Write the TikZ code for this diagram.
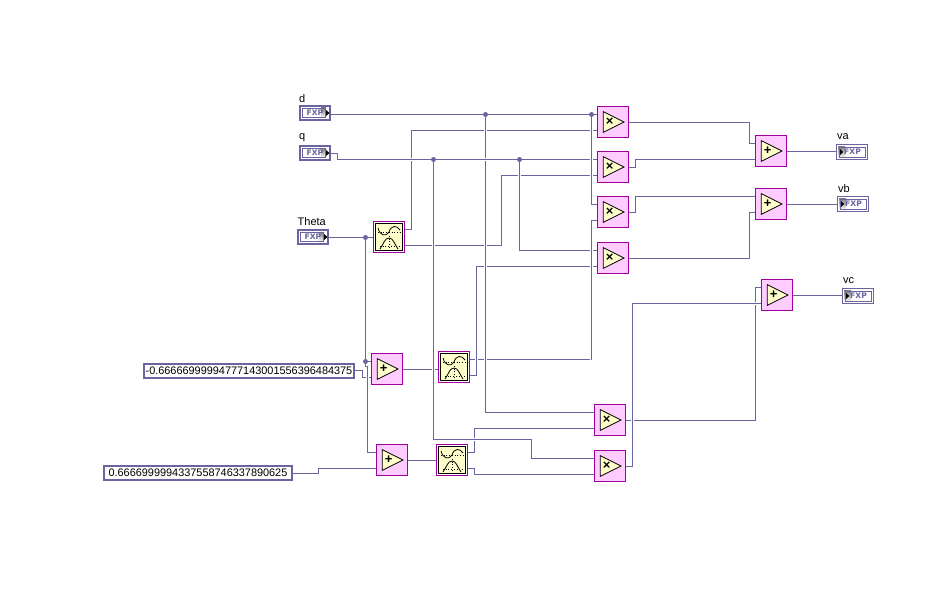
\documentclass[tikz,border=0pt]{standalone}
\usepackage{fontspec}
\usetikzlibrary{backgrounds}
\setmainfont{Liberation Sans}
\newfontfamily\fxpfont{DejaVu Sans}
\definecolor{wirec}{HTML}{6A659E}
\definecolor{fnedge}{HTML}{A000A0}
\definecolor{fnfill}{HTML}{FFCCFF}
\definecolor{glyphy}{HTML}{FFFFCC}
\definecolor{shade}{HTML}{C8C8E0}
\tikzset{
  wire/.style={draw=wirec,line width=1pt,preaction={draw=white,line width=3pt}},
  dotj/.style={circle,fill=wirec,inner sep=0pt,minimum size=5pt},
  fnbox/.style={draw=fnedge,fill=fnfill,line width=1pt,minimum size=31pt,inner sep=0pt},
  sinbox/.style={draw=fnedge,fill=white,line width=1pt,minimum size=31pt,inner sep=0pt},
  ctlbox/.style={draw=wirec,fill=white,line width=2pt,minimum width=30pt,minimum height=14pt,inner sep=0pt},
  indbox/.style={draw=wirec,fill=white,line width=1pt,minimum width=31pt,minimum height=15pt,inner sep=0pt},
  constbox/.style={draw=wirec,fill=white,line width=2pt,minimum height=14pt,inner sep=0pt,font=\fontsize{10.9}{12}\selectfont},
  lbl/.style={anchor=west,inner sep=0pt,font=\fontsize{11}{12}\selectfont},
  fxp/.style={inner sep=0pt,text=wirec,font=\fxpfont\bfseries\fontsize{7.6}{8}\selectfont},
  opsym/.style={inner sep=0pt,font=\bfseries\fontsize{13}{13}\selectfont}
}
% function node with two input ports and an output port
\newcommand\fnode[4]{%
  \node[fnbox] (#1) at (#2,#3) {};
  \coordinate (#1a) at (#2-16,#3-7.5);
  \coordinate (#1b) at (#2-16,#3+8.5);
  \coordinate (#1o) at (#2+16,#3+.5);
  \draw[fill=glyphy,draw=black,line width=.8pt] (#2-9.7,#3-10.3) -- (#2+11,#3) -- (#2-9.7,#3+10.3) -- cycle;
  \node[opsym] at (#2-3.3,#3) {#4};
}
\newcommand\snode[3]{%
  \node[sinbox] (#1) at (#2,#3) {};
  \coordinate (#1u) at (#2+16,#3-7.5);
  \coordinate (#1l) at (#2+16,#3+8.5);
  \coordinate (#1i) at (#2-16,#3+.5);
  \draw[fill=glyphy,draw=black,line width=1pt] (#2-13.5,#3-13.5) rectangle (#2+13.5,#3+13.5);
  \draw[black,line width=.7pt,dotted] (#2-11,#3-5) -- (#2+11,#3-5);
  \draw[black,line width=.7pt,dotted] (#2-9,#3+9) -- (#2+10,#3+9);
  \draw[black,line width=.7pt,dotted] (#2,#3-1) -- (#2,#3+12);
  \draw[black,line width=.8pt] (#2-11,#3-9) .. controls (#2-9,#3-1) and (#2-3,#3-0) .. (#2,#3-5) .. controls (#2+2,#3-12) and (#2+8,#3-12) .. (#2+11,#3-7);
  \draw[black,line width=.8pt] (#2-9,#3+12) .. controls (#2-5,#3+6) and (#2-4,#3+1) .. (#2,#3+1) .. controls (#2+4,#3+1) and (#2+5,#3+6) .. (#2+9,#3+12);
}
\newcommand\ctl[3]{%
  \node[ctlbox] (#1) at (#2,#3) {};
  \coordinate (#1o) at (#2+16,#3+.5);
  \fill[shade] (#2+6,#3-5) rectangle (#2+11,#3+5);
  \draw[wirec,line width=.8pt] (#2-12.5,#3-4.5) rectangle (#2+10.5,#3+4.5);
  \node[fxp] at (#2,#3) {FXP};
  \fill[black] (#2+11,#3-3) -- (#2+14.5,#3) -- (#2+11,#3+3) -- cycle;
}
\newcommand\ind[3]{%
  \node[indbox] (#1) at (#2,#3) {};
  \fill[shade] (#2-14,#3-6) rectangle (#2-7,#3+6);
  \draw[wirec,line width=.8pt] (#2-13,#3-5) rectangle (#2+13,#3+5);
  \node[fxp] at (#2+.5,#3) {FXP};
  \fill[black] (#2-12,#3-3) -- (#2-8.7,#3) -- (#2-12,#3+3) -- cycle;
}
\begin{document}
\begin{tikzpicture}[x=1pt,y=-1pt]
\useasboundingbox (0,0) rectangle (952,599);
% ---------- functions
\snode{s1}{389}{237}
\snode{s2}{454}{367}
\snode{s3}{452}{460}
\fnode{m1}{613}{122}{×}
\fnode{m2}{613}{167}{×}
\fnode{m3}{613}{212}{×}
\fnode{m4}{613}{258}{×}
\fnode{m5}{610}{420}{×}
\fnode{m6}{610}{466}{×}
\fnode{a1}{771}{151}{+}
\fnode{a2}{771}{204}{+}
\fnode{a3}{777}{295}{+}
\fnode{a4}{387}{369}{+}
\fnode{a5}{392}{460}{+}
% ---------- terminals
\ctl{d}{315}{113}
\ctl{q}{315}{153}
\ctl{theta}{313}{237}
\ind{va}{852}{152}
\ind{vb}{853}{204}
\ind{vc}{858}{296}
\coordinate (do) at (331,114.5);
\node[lbl] (ld) at (299,98.5) {d};
\node[lbl] (lq) at (299,138) {q};
\node[lbl] (lt) at (297.5,222) {Theta};
\node[lbl] (lva) at (837,137) {va};
\node[lbl] (lvb) at (838,189) {vb};
\node[lbl] (lvc) at (843,281) {vc};
% ---------- constants
\node[constbox,minimum width=210pt] (c1) at (249,371) {-0.66666999994777143001556396484375};
\node[constbox,minimum width=188pt] (c2) at (198,473) {0.6666999994337558746337890625};
\coordinate (c1o) at (355,370.5);
\coordinate (c2o) at (293,473.5);
% ---------- junctions
\node[dotj] (jd1) at (485.5,114.5) {};
\node[dotj] (jd2) at (591.5,114.5) {};
\node[dotj] (jq1) at (433.5,159.5) {};
\node[dotj] (jq2) at (519.5,159.5) {};
\node[dotj] (jt1) at (365.5,237.5) {};
\node[dotj] (jt2) at (365.5,361.5) {};
\coordinate (bend) at (591.5,359.5);
\coordinate (bendb) at (476.5,375.5);
% ---------- wires, lowest first
\begin{scope}[on background layer]
\fill[white] (0,0) rectangle (952,599);
\draw[wire] (s1u) -- (411.5,229.5) |- (m1a |- m1b);
\draw[wire] (s1l) -- (501.5,245.5) |- (m2b);
\draw[wire] (s2u) -- (bend);
\draw[wire] (s2l) -- (bendb) |- (m4b);
\draw[wire] (jd1.center) |- (m5a);
\draw[wire] (do) -- (m1a);
\draw[wire] (qo) -- (337.5,153.5) |- (m2a);
\draw[wire] (jq2.center) |- (m4a);
\draw[wire] (bend) |- (m3b);
\draw[wire] (jd2.center) |- (m3a);
\draw[wire] (a4o) -- (a4o -| s2.west);
\draw[wire] (s3u) -- (474.5,452.5) |- (m5b);
\draw[wire] (jq1.center) -- (433.5,439.5) -- (531.5,439.5) |- (m6a);
\draw[wire] (s3l) -- (474.5,468.5) |- (m6b);
\draw[wire] (a5o) -- (s3i);
\draw[wire] (m5o) -- (755.5,420.5) |- (a3a);
\draw[wire] (m6o) -- (632.5,466.5) |- (a3b);
\draw[wire] (m1o) -- (749.5,122.5) |- (a1a);
\draw[wire] (m2o) -- (635.5,167.5) |- (a1b);
\draw[wire] (m3o) -- (635.5,212.5) |- (a2a);
\draw[wire] (m4o) -- (749.5,258.5) |- (a2b);
\draw[wire] (a1o) -- (a1o -| va.west);
\draw[wire] (a2o) -- (a2o -| vb.west);
\draw[wire] (a3o) -- (a3o -| vc.west);
\draw[wire] (c1o) -- (362.5,370.5) |- (a4b);
\draw[wire] (c2o) -- (318.5,473.5) |- (a5b);
\draw[wire] (jt1.center) -- (jt2.center) -- (a4a);
\draw[wire] (jt2.center) -- (365.5,366.5) -- (367.5,366.5) |- (a5a);
\draw[wire] (thetao) -- (s1i);
\end{scope}
\end{tikzpicture}
\end{document}
